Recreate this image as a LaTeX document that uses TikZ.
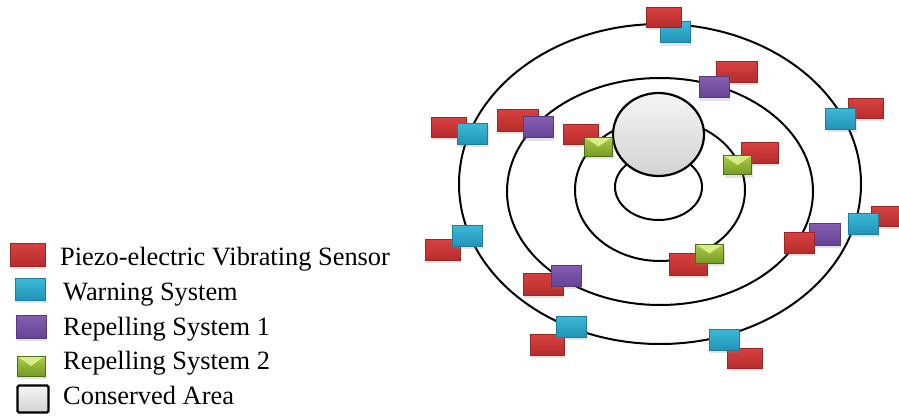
\documentclass[tikz,border=0pt]{standalone}
\usepackage{fontspec}
\setmainfont{Liberation Serif}
\usetikzlibrary{shadows,shapes.geometric}
\definecolor{redT}{RGB}{214,66,64}
\definecolor{redB}{RGB}{184,44,44}
\definecolor{cyT}{RGB}{60,186,214}
\definecolor{cyB}{RGB}{34,148,184}
\definecolor{puT}{RGB}{134,94,178}
\definecolor{puB}{RGB}{102,68,148}
\definecolor{grT}{RGB}{172,204,74}
\definecolor{grB}{RGB}{116,156,36}
\definecolor{grL}{RGB}{216,236,136}
\tikzset{
  box/.style={rectangle, inner sep=0pt, line width=0.6pt,
    drop shadow={opacity=0.22, shadow xshift=1pt, shadow yshift=-3pt}},
  sensor/.style={box, draw=redB!85!black, top color=redT, bottom color=redB,
    minimum width=35pt, minimum height=20pt},
  warn/.style={box, draw=cyB!85!black, top color=cyT, bottom color=cyB,
    minimum width=30pt, minimum height=21pt},
  rep/.style={box, draw=puB!85!black, top color=puT, bottom color=puB,
    minimum width=30pt, minimum height=21pt},
  env/.style={box, draw=grB!70!black, top color=grT, bottom color=grB,
    minimum width=28pt, minimum height=19pt,
    path picture={\fill[grL] (path picture bounding box.north west) --
      (path picture bounding box.center) -- (path picture bounding box.north east) -- cycle;}},
  ring/.style={draw=black, line width=2pt},
  area/.style={draw=black, line width=2.2pt, top color=gray!8, bottom color=gray!35},
  lbl/.style={inner sep=0pt, anchor=base west, font=\fontsize{26.4pt}{30pt}\selectfont}
}
\begin{document}
\begin{tikzpicture}[x=1pt, y=-1pt]
\useasboundingbox (0,0) rectangle (899,415);
\clip (0,0) rectangle (899,415);
% rings
\draw[ring] (660,184) ellipse [x radius=201pt, y radius=160pt];
\draw[ring] (660,191.5) ellipse [x radius=153pt, y radius=113.5pt];
\draw[ring] (660,190) ellipse [x radius=85pt, y radius=71pt];
\draw[ring] (658.5,187) ellipse [x radius=43.5pt, y radius=33pt];
% conserved area
\node[area, ellipse, minimum width=91pt, minimum height=83pt, inner sep=0pt] (core) at (658.5,134.5) {};
% devices
\node[warn] (w1) at (675,32) {};
\node[sensor] (s1) at (663.5,17) {};
\node[sensor, minimum width=41pt, minimum height=21pt] (s2) at (736.5,71.5) {};
\node[rep] (r1) at (714,87) {};
\node[sensor] (s3) at (865.5,108) {};
\node[warn] (w2) at (840.5,118.5) {};
\node[sensor] (s4) at (448.5,127) {};
\node[warn] (w3) at (472.5,133.5) {};
\node[sensor, minimum width=41pt, minimum height=22pt] (s5) at (517.5,120) {};
\node[rep] (r2) at (538,127) {};
\node[sensor] (s6) at (580.5,134) {};
\node[env] (g1) at (598.5,146.5) {};
\node[sensor, minimum width=37pt, minimum height=21pt] (s7) at (759.5,152.5) {};
\node[env] (g2) at (737.5,165) {};
\node[sensor, minimum height=21pt] (s8) at (442.5,249.5) {};
\node[warn] (w4) at (467,235.5) {};
\node[sensor, minimum width=40pt, minimum height=22pt] (s9) at (543,284) {};
\node[rep] (r3) at (566,275.5) {};
\node[sensor, minimum width=38pt, minimum height=22pt] (s10) at (688,264) {};
\node[env] (g3) at (709.5,253.5) {};
\node[rep, minimum width=31pt, minimum height=22pt] (r4) at (824.5,234) {};
\node[sensor, minimum width=30pt, minimum height=21pt] (s11) at (799,242.5) {};
\node[sensor] (s12) at (888.5,216) {};
\node[warn] (w5) at (863,223.5) {};
\node[sensor, minimum width=34pt, minimum height=21pt] (s13) at (547,344.5) {};
\node[warn] (w6) at (571,326.5) {};
\node[sensor] (s14) at (744.5,358) {};
\node[warn] (w7) at (724,339.5) {};
% legend
\node[sensor, minimum height=23pt] (ks) at (27.5,254.5) {};
\node[warn, minimum height=22pt] (kw) at (30,289) {};
\node[rep, minimum height=23pt] (kr) at (31,326.5) {};
\node[env, minimum height=20pt] (kg) at (31,366) {};
\node[area, rectangle, rounded corners=1.5pt, minimum width=31pt, minimum height=27pt, inner sep=0pt] (ka) at (33,399) {};
\node[lbl] (ts) at (60,265) {Piezo-electric Vibrating Sensor};
\node[lbl] (tw) at (63,300) {Warning System};
\node[lbl] (tr) at (63,335) {Repelling System 1};
\node[lbl] (tg) at (63,369) {Repelling System 2};
\node[lbl] (ta) at (63,404) {Conserved Area};
\end{tikzpicture}
\end{document}
